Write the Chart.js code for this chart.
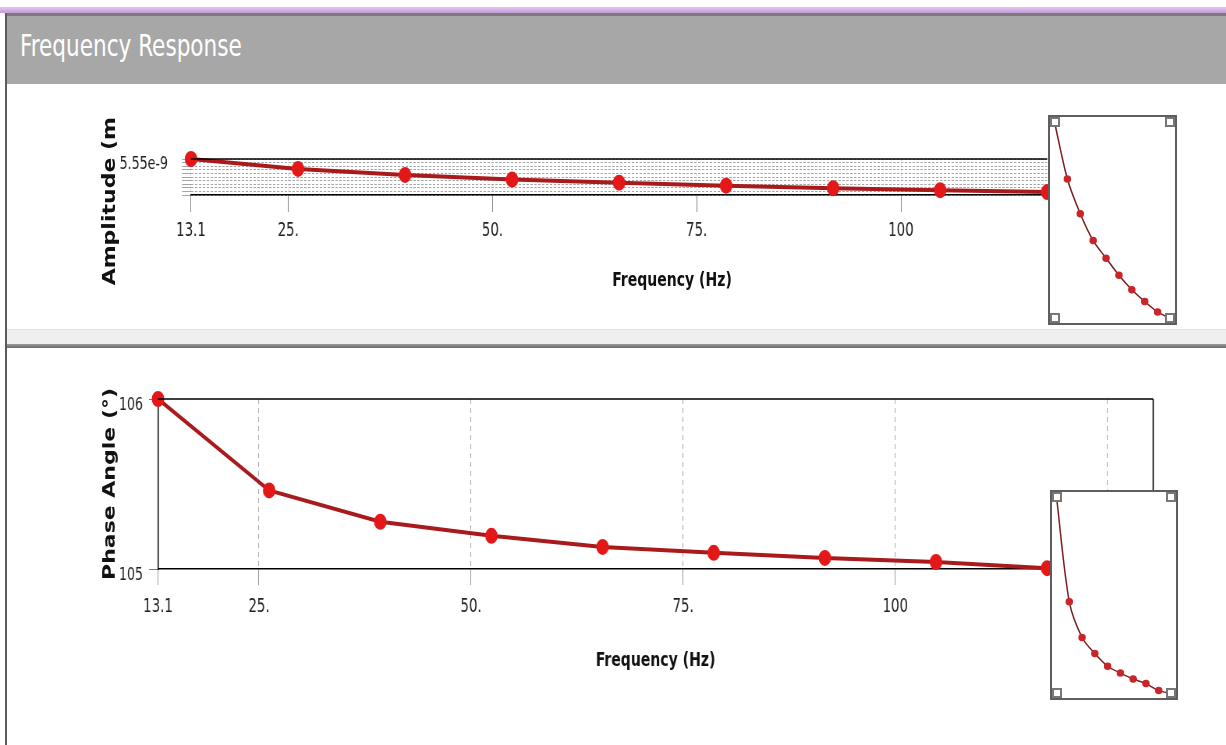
<!DOCTYPE html>
<html>
<head>
<meta charset="utf-8">
<script src="https://cdn.jsdelivr.net/npm/chart.js@4.4.1/dist/chart.umd.min.js"></script>
<style>
  html, body { margin: 0; padding: 0; background: #fff; }
  #page { position: relative; width: 1226px; height: 745px; overflow: hidden; background: #fff; }
  .abs { position: absolute; }
  .squeeze { position: absolute; transform-origin: 0 0; }
  #stripe { left: 0; top: 7px; width: 1226px; height: 6px; background: linear-gradient(#e2c6ee, #c79bd8); }
  #stripeEdge { left: 6px; top: 13px; width: 1220px; height: 3px; background: #7b7b7b; }
  #titleBar { left: 6px; top: 16px; width: 1220px; height: 68px; background: #a7a7a7; }
  #titleText { left: 20px; top: 31px; font: 30px/30px "DejaVu Sans Condensed", "DejaVu Sans", sans-serif; color: #fff; white-space: nowrap; transform: scaleX(0.8); transform-origin: 0 0; }
  #leftEdge { left: 5px; top: 13px; width: 2px; height: 732px; background: #5c5c5c; }
  #sepBand { left: 7px; top: 329px; width: 1219px; height: 15px; background: #efefef; border-top: 1px solid #e2e2e2; }
  #sepLine { left: 7px; top: 344px; width: 1219px; height: 4px; background: linear-gradient(#9a9a9a, #6a6a6a); }
  canvas { display: block; }
  .box { position: absolute; background: #fff; border: 2px solid #5e5e5e; box-sizing: border-box; }
  .corner { position: absolute; width: 10px; height: 10px; border: 2px solid #777; box-sizing: border-box; background: #fff; }
  .ampTitle { position: absolute; left: 1px; bottom: 2px; font: bold 22px/26px "DejaVu Sans", sans-serif; color: #111; white-space: nowrap;
              writing-mode: vertical-rl; transform: rotate(180deg) scaleX(0.78); }
  .freqTitle { font: bold 20px/20px "DejaVu Sans Condensed", "DejaVu Sans", sans-serif; color: #111; text-align: center; transform: scaleX(0.78); }
</style>
</head>
<body>
<div id="page">
  <div id="stripe" class="abs"></div>
  <div id="stripeEdge" class="abs"></div>
  <div id="titleBar" class="abs"></div>
  <div id="titleText" class="abs">Frequency Response</div>

  <div id="ampWrap" class="squeeze" style="left:0;top:84px;">
    <canvas id="ampChart"></canvas>
  </div>
  <div class="abs" style="left:96px;top:117px;width:30px;height:170px;overflow:hidden;">
    <div class="ampTitle">Amplitude (m)</div>
  </div>
  <div class="abs freqTitle" style="left:560px;top:269px;width:224px;">Frequency (Hz)</div>

  <div id="sepBand" class="abs"></div>
  <div id="sepLine" class="abs"></div>

  <div id="phaseWrap" class="squeeze" style="left:0;top:348px;">
    <canvas id="phaseChart"></canvas>
  </div>

  <div class="box" style="left:1048px;top:115px;width:129px;height:210px;"></div>
  <div class="abs" style="left:1049px;top:116px;width:127px;height:208px;">
    <canvas id="ampOverview"></canvas>
  </div>
  <div class="corner" style="left:1050px;top:117px;"></div>
  <div class="corner" style="left:1165px;top:117px;"></div>
  <div class="corner" style="left:1050px;top:313px;"></div>
  <div class="corner" style="left:1165px;top:313px;"></div>

  <div class="box" style="left:1050px;top:490px;width:128px;height:210px;"></div>
  <div class="abs" style="left:1051px;top:491px;width:126px;height:208px;">
    <canvas id="phaseOverview"></canvas>
  </div>
  <div class="corner" style="left:1052px;top:492px;"></div>
  <div class="corner" style="left:1166px;top:492px;"></div>
  <div class="corner" style="left:1052px;top:688px;"></div>
  <div class="corner" style="left:1166px;top:688px;"></div>

  <div id="leftEdge" class="abs"></div>
</div>

<script>
// Data
const freqs = [13.1, 26.2, 39.3, 52.4, 65.5, 78.6, 91.7, 104.8, 117.9, 131.0];
const amplitude = [5.55e-9, 5.463e-9, 5.410e-9, 5.369e-9, 5.342e-9, 5.316e-9, 5.294e-9, 5.276e-9, 5.260e-9, 5.250e-9];
const phase = [106.0, 105.462, 105.278, 105.195, 105.130, 105.095, 105.065, 105.041, 105.005, 104.99];

const xTicks = [13.1, 25, 50, 75, 100, 125];
const xTickLabels = ['13.1', '25.', '50.', '75.', '100', '125'];
const phaseTicks = [105, 106];
const ampTopLabel = '5.55e-9';

// the original screenshot is squeezed horizontally, so the big charts are too
const SQ = 0.78;
const PAGE_W = 1226;

const tickFont = { family: "'DejaVu Sans Condensed', 'DejaVu Sans', sans-serif", size: 19 };
const LINE = '#a81a1c';
const MARK = '#e41818';

function pts(ys) {
    return freqs.map((f, i) => ({ x: f, y: ys[i] }));
}

function pickXTicks(scale) {
    scale.ticks = xTicks.filter(v => v >= scale.min && v <= scale.max).map(v => ({ value: v }));
}

function xLabel(value) {
    const i = xTicks.indexOf(value);
    return i >= 0 ? xTickLabels[i] : '';
}

function prepCanvas(wrapId, canvasId, h) {
    document.getElementById(wrapId).style.transform = `scaleX(${SQ})`;
    const c = document.getElementById(canvasId);
    c.width = Math.round(PAGE_W / SQ);
    c.height = h;
    return c;
}

// draws the black plot frame lines
const framePlugin = {
    id: 'frame',
    afterDatasetsDraw(chart, args, opts) {
        const { ctx, chartArea: a } = chart;
        ctx.save();
        ctx.strokeStyle = '#000';
        ctx.lineWidth = 1.5;
        ctx.beginPath();
        if (opts.top) { ctx.moveTo(a.left, a.top); ctx.lineTo(a.right, a.top); }
        if (opts.right) { ctx.moveTo(a.right, a.top); ctx.lineTo(a.right, a.bottom); }
        ctx.stroke();
        ctx.restore();
    }
};

Chart.register(framePlugin);

// Amplitude chart (top)
const ampMin = 5.234e-9, ampMax = 5.55e-9;
new Chart(prepCanvas('ampWrap', 'ampChart', 246), {
    type: 'line',
    data: {
        datasets: [{
            data: pts(amplitude),
            borderColor: LINE,
            borderWidth: 4,
            pointRadius: 6,
            pointBackgroundColor: MARK,
            pointBorderColor: MARK,
            tension: 0,
            clip: false
        }]
    },
    options: {
        responsive: false,
        animation: false,
        devicePixelRatio: 1,
        layout: { padding: { left: 0, top: 75, right: 179 / SQ, bottom: 0 } },
        plugins: { legend: { display: false }, tooltip: { enabled: false }, frame: { top: true } },
        scales: {
            x: {
                type: 'linear',
                min: 13.1,
                max: 117.9,
                afterBuildTicks: pickXTicks,
                afterFit: s => { s.height = 135; },
                ticks: { callback: xLabel, font: tickFont, color: '#222', padding: 8, maxRotation: 0, autoSkip: false },
                grid: { color: '#cfcfcf', tickColor: '#888', tickLength: 17, tickBorderDash: [] },
                border: { color: '#000', width: 1.5, dash: [2, 3] }
            },
            y: {
                min: ampMin,
                max: ampMax,
                afterBuildTicks: s => {
                    const n = 10;
                    s.ticks = [];
                    for (let i = 0; i <= n; i++) s.ticks.push({ value: ampMin + (ampMax - ampMin) * i / n });
                },
                afterFit: s => { s.width = 191 / SQ; },
                ticks: {
                    callback: (v, i, arr) => i === arr.length - 1 ? ampTopLabel : '',
                    font: { family: tickFont.family, size: 18 }, color: '#222',
                    padding: 14 / SQ, labelOffset: 5, autoSkip: false
                },
                grid: { color: '#a4a4a4', tickColor: '#a4a4a4', tickLength: 9 / SQ },
                border: { display: false, dash: [3, 2] }
            }
        }
    }
});

// Phase chart (bottom)
new Chart(prepCanvas('phaseWrap', 'phaseChart', 397), {
    type: 'line',
    data: {
        datasets: [{
            data: pts(phase),
            borderColor: LINE,
            borderWidth: 4,
            pointRadius: 6,
            pointBackgroundColor: MARK,
            pointBorderColor: MARK,
            tension: 0,
            clip: false
        }]
    },
    options: {
        responsive: false,
        animation: false,
        devicePixelRatio: 1,
        layout: { padding: { left: 0, top: 51, right: 73 / SQ, bottom: 0 } },
        plugins: { legend: { display: false }, tooltip: { enabled: false }, frame: { top: true, right: true } },
        scales: {
            x: {
                type: 'linear',
                min: 13.1,
                max: 130.4,
                afterBuildTicks: pickXTicks,
                afterFit: s => { s.height = 176; },
                ticks: { callback: xLabel, font: tickFont, color: '#222', padding: 11, maxRotation: 0, autoSkip: false },
                grid: { color: '#a8a8a8', tickColor: '#999', tickLength: 16, tickBorderDash: [] },
                border: { color: '#000', width: 1.5, dash: [5, 4] },
                title: {
                    display: true,
                    text: 'Frequency (Hz)',
                    font: { family: "'DejaVu Sans Condensed', 'DejaVu Sans', sans-serif", size: 20, weight: 'bold' },
                    color: '#111',
                    padding: { top: 0, bottom: 72 }
                }
            },
            y: {
                min: 105,
                max: 106,
                afterBuildTicks: s => { s.ticks = phaseTicks.map(v => ({ value: v })); },
                afterFit: s => { s.width = 158 / SQ; },
                ticks: { font: { family: tickFont.family, size: 18 }, color: '#222', padding: 6 / SQ, labelOffset: 6, autoSkip: false },
                grid: { drawOnChartArea: false, tickColor: '#777', tickLength: 9 / SQ },
                border: { color: '#000', width: 1.5 },
                title: {
                    display: true,
                    text: 'Phase Angle (°)',
                    font: { family: "'DejaVu Sans', sans-serif", size: 22, weight: 'bold' },
                    color: '#111',
                    padding: { top: 110 / SQ - 13 }
                }
            }
        }
    }
});

// small overview charts in the boxes
function overview(id, ys, pad) {
    new Chart(document.getElementById(id), {
        type: 'line',
        data: {
            datasets: [{
                data: pts(ys),
                borderColor: '#7d1f22',
                borderWidth: 1.5,
                pointRadius: 3,
                pointBackgroundColor: '#c9262a',
                pointBorderColor: '#c9262a',
                tension: 0.3,
                clip: false
            }]
        },
        options: {
            responsive: true,
            maintainAspectRatio: false,
            animation: false,
            layout: { padding: pad },
            plugins: { legend: { display: false }, tooltip: { enabled: false }, frame: {} },
            scales: {
                x: { type: 'linear', display: false, min: freqs[0], max: freqs[freqs.length - 1] },
                y: { display: false, min: Math.min(...ys), max: Math.max(...ys) }
            }
        }
    });
}

overview('ampOverview', amplitude, { left: 1, right: 3, top: 6, bottom: 2 });
overview('phaseOverview', phase, { left: 0, right: 1, top: 6, bottom: 1 });
</script>
</body>
</html>
